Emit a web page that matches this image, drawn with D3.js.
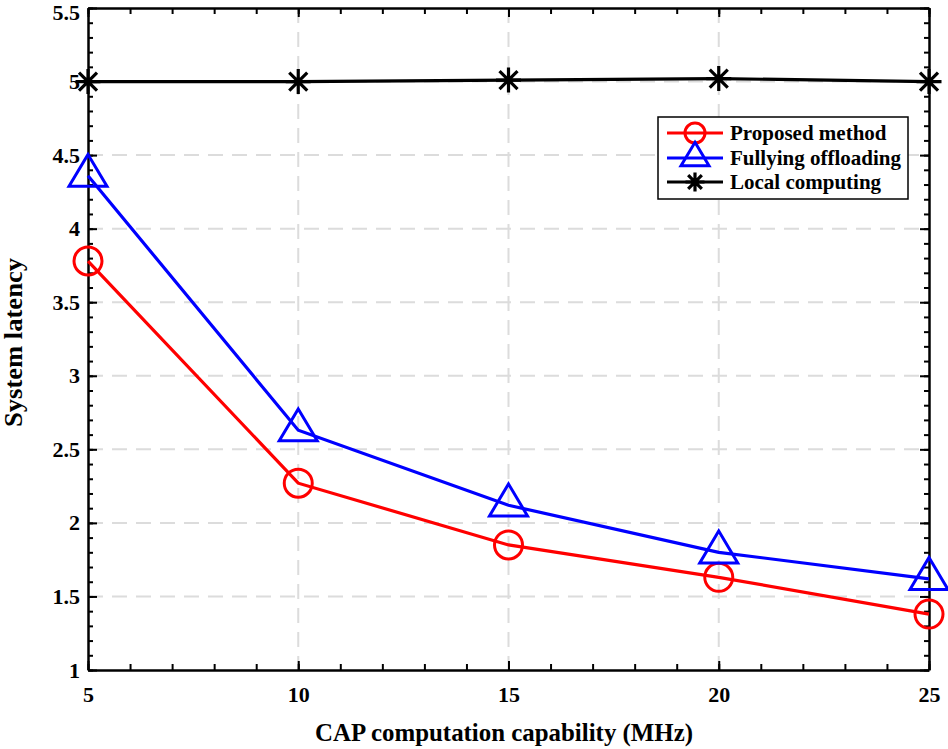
<!DOCTYPE html>
<html><head><meta charset="utf-8">
<script src="https://cdn.jsdelivr.net/npm/d3@7"></script>
<style>body{margin:0;background:#fff}svg{display:block}</style>
</head><body>
<svg id="c" width="948" height="749" font-family="'Liberation Serif', Tinos, 'Times New Roman', 'DejaVu Serif', serif" font-weight="bold"></svg>
<script>
const xValues = [5, 10, 15, 20, 25];
const proposed = [3.78, 2.27, 1.85, 1.63, 1.38];
const fully = [4.36, 2.63, 2.12, 1.80, 1.62];
const local = [5.0, 5.0, 5.01, 5.02, 5.0];
const xTicks = [5, 10, 15, 20, 25];
const yTicks = [1, 1.5, 2, 2.5, 3, 3.5, 4, 4.5, 5, 5.5];
const seriesNames = ["Proposed method", "Fullying offloading", "Local computing"];
const xLabel = "CAP computation capability (MHz)";
const yLabel = "System latency";

const FONT = "'Liberation Serif', Tinos, 'Times New Roman', 'DejaVu Serif', serif";
const svg = d3.select("#c");
const L = 88, R = 929, T = 8, B = 670;
const x = d3.scaleLinear().domain([5, 25]).range([L, R]);
const y = d3.scaleLinear().domain([1, 5.5]).range([B, T]);

// grid
const g = svg.append("g");
g.selectAll(".gx").data(xTicks.slice(1, -1)).join("line")
  .attr("x1", d => x(d)).attr("x2", d => x(d)).attr("y1", T).attr("y2", B)
  .attr("stroke", "#dcdcdc").attr("stroke-width", 2).attr("stroke-dasharray", "15,9");
g.selectAll(".gy").data(yTicks.slice(1, -1)).join("line")
  .attr("y1", d => y(d)).attr("y2", d => y(d)).attr("x1", L).attr("x2", R)
  .attr("stroke", "#dcdcdc").attr("stroke-width", 2).attr("stroke-dasharray", "15,9");

// axes
const xMinor = d3.range(5, 25.001, 1);
const yMinor = d3.range(1, 5.5001, 0.1);
function styleAxis(sel) {
  sel.attr("font-family", FONT).attr("font-weight", "bold");
  sel.selectAll("path").attr("stroke", "#000").attr("stroke-width", 2.5);
  sel.selectAll("line").attr("stroke", "#000").attr("stroke-width", 2);
  sel.selectAll("text").attr("font-size", 22).attr("fill", "#000")
    .attr("font-family", FONT).attr("font-weight", "bold");
}
// minor
svg.append("g").attr("transform", `translate(0,${B})`)
  .call(d3.axisTop(x).tickValues(xMinor).tickSize(6).tickFormat("")).call(styleAxis).select("path").remove();
svg.append("g").attr("transform", `translate(0,${T})`)
  .call(d3.axisBottom(x).tickValues(xMinor).tickSize(6).tickFormat("")).call(styleAxis).select("path").remove();
svg.append("g").attr("transform", `translate(${L},0)`)
  .call(d3.axisRight(y).tickValues(yMinor).tickSize(5).tickFormat("")).call(styleAxis).select("path").remove();
svg.append("g").attr("transform", `translate(${R},0)`)
  .call(d3.axisLeft(y).tickValues(yMinor).tickSize(5).tickFormat("")).call(styleAxis).select("path").remove();
// major
const xb = svg.append("g").attr("transform", `translate(0,${B})`)
  .call(d3.axisBottom(x).tickValues(xTicks).tickSizeInner(-9).tickSizeOuter(0).tickPadding(16).tickFormat(d3.format("d")));
styleAxis(xb);
xb.selectAll("text").attr("dy", "0.71em").attr("y", 16);
const xt = svg.append("g").attr("transform", `translate(0,${T})`)
  .call(d3.axisTop(x).tickValues(xTicks).tickSizeInner(-9).tickSizeOuter(0).tickFormat(""));
styleAxis(xt);
const yl = svg.append("g").attr("transform", `translate(${L},0)`)
  .call(d3.axisLeft(y).tickValues(yTicks).tickSizeInner(-9).tickSizeOuter(0).tickPadding(8).tickFormat(d => d3.format("")(d)));
styleAxis(yl);
yl.selectAll("text").attr("x", -8);
yl.selectAll(".tick").filter(d => d === 5.5).select("text").attr("dy", "0.5em");
const yr = svg.append("g").attr("transform", `translate(${R},0)`)
  .call(d3.axisRight(y).tickValues(yTicks).tickSizeInner(-9).tickSizeOuter(0).tickFormat(""));
styleAxis(yr);

// axis labels
svg.append("text").attr("x", 315).attr("y", 741)
  .attr("textLength", 378).attr("lengthAdjust", "spacingAndGlyphs")
  .attr("font-family", FONT).attr("font-size", 25).text(xLabel);
svg.append("text").attr("transform", `translate(22,427) rotate(-90)`)
  .attr("textLength", 169).attr("lengthAdjust", "spacingAndGlyphs")
  .attr("font-family", FONT).attr("font-size", 25).text(yLabel);

// markers
function circle(sel, r) { sel.append("circle").attr("r", r).attr("fill", "none").attr("stroke", "#f00").attr("stroke-width", 3); }
function tri(sel, s) {
  const h = s * 0.84, w = s;
  sel.append("path").attr("d", `M0,${-h * 2 / 3}L${w / 2},${h / 3}L${-w / 2},${h / 3}Z`)
    .attr("fill", "none").attr("stroke", "#00f").attr("stroke-width", 3).attr("stroke-linejoin", "miter");
}
function star(sel, s) {
  const a = s / 2, b = a * 0.72;
  sel.append("path").attr("d", `M${-a},0H${a}M0,${-a}V${a}M${-b},${-b}L${b},${b}M${-b},${b}L${b},${-b}`)
    .attr("stroke", "#000").attr("stroke-width", 3.2);
}

const line = d3.line().x((d, i) => x(xValues[i])).y(d => y(d));
const series = [
  { vals: proposed, color: "#f00", mk: s => circle(s, 14) },
  { vals: fully, color: "#00f", mk: s => tri(s, 38) },
  { vals: local, color: "#000", mk: s => star(s, 25) }
];
series.forEach(s => {
  svg.append("path").datum(s.vals).attr("d", line).attr("fill", "none")
    .attr("stroke", s.color).attr("stroke-width", 3.2);
});
series.forEach(s => {
  s.vals.forEach((v, i) => {
    const gm = svg.append("g").attr("transform", `translate(${x(xValues[i])},${y(v)})`);
    s.mk(gm);
  });
});

// legend
const lg = svg.append("g");
lg.append("rect").attr("x", 658).attr("y", 117).attr("width", 250).attr("height", 82)
  .attr("fill", "#fff").attr("stroke", "#000").attr("stroke-width", 1.5);
const legMk = [s => circle(s, 10), s => tri(s, 28), s => star(s, 19)];
const legY = [133, 158, 182];
seriesNames.forEach((n, i) => {
  lg.append("line").attr("x1", 667).attr("x2", 723).attr("y1", legY[i]).attr("y2", legY[i])
    .attr("stroke", series[i].color).attr("stroke-width", 3.2);
  const gm = lg.append("g").attr("transform", `translate(695,${legY[i]})`);
  legMk[i](gm);
  lg.append("text").attr("x", 730).attr("y", legY[i] + 7).attr("font-family", FONT).attr("font-size", 21).text(n);
});
</script>
</body></html>
